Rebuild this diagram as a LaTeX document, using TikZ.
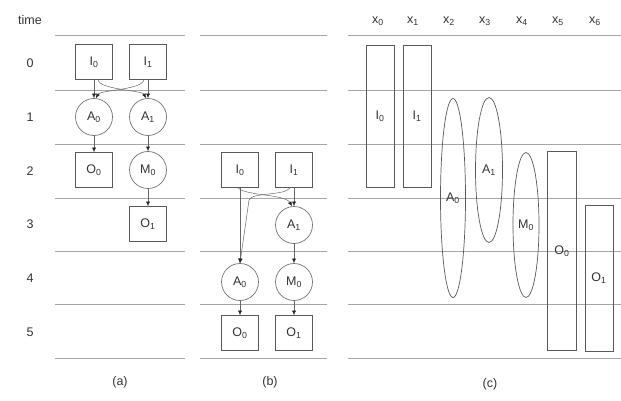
\documentclass[tikz,border=0pt]{standalone}
\usepackage{fontspec}
\setmainfont{Liberation Sans}
\usetikzlibrary{arrows.meta,shapes.geometric}
\begin{document}
\begin{tikzpicture}[x=1pt,y=-1pt,
  every node/.style={font=\fontsize{12.5}{14}\selectfont, text=black!80},
  grid/.style={draw=black!35, line width=0.7pt},
  boxn/.style={draw=black!65, line width=0.7pt, minimum width=37pt, minimum height=35pt, inner sep=0pt},
  circn/.style={draw=black!55, line width=0.7pt, circle, minimum size=37pt, inner sep=0pt},
  tallbox/.style={draw=black!65, line width=0.7pt, inner sep=0pt},
  ell/.style={draw=black!65, line width=0.7pt, ellipse, inner sep=0pt},
  arr/.style={draw=black!60, line width=0.5pt, -{Latex[length=4.5pt,width=4pt,color=black!85]}},
  lbl/.style={font=\fontsize{12.5}{14}\selectfont}
]
\useasboundingbox (0,0) rectangle (621,401);
% horizontal lines
\foreach \y in {35,90,144,198,251,304,358}{
  \draw[grid] (55,\y) -- (185,\y);
  \draw[grid] (200,\y) -- (327,\y);
  \draw[grid] (348,\y) -- (621,\y);
}
% row labels
\node[lbl] (time) at (30,20) {time};
\node[lbl] (r0) at (30,63) {0};
\node[lbl] (r1) at (30,117) {1};
\node[lbl] (r2) at (30,171) {2};
\node[lbl] (r3) at (30,224) {3};
\node[lbl] (r4) at (30,278) {4};
\node[lbl] (r5) at (30,332) {5};
% panel (a)
\node[boxn] (aI0) at (94,62) {I\textsubscript{0}};
\node[boxn] (aI1) at (148,62) {I\textsubscript{1}};
\node[circn] (aA0) at (94,117) {A\textsubscript{0}};
\node[circn] (aA1) at (148,117) {A\textsubscript{1}};
\node[boxn] (aO0) at (94,170) {O\textsubscript{0}};
\node[circn] (aM0) at (148,170) {M\textsubscript{0}};
\node[boxn] (aO1) at (148,224) {O\textsubscript{1}};
\draw[arr] (aI0.south) -- (aA0.north);
\draw[arr] (aI1.south) -- (aA1.north);
\draw[arr] ([xshift=4pt]aI0.south) .. controls +(2,10) and +(-4,-8) .. ([xshift=-2pt]aA1.north);
\draw[arr] ([xshift=-4pt]aI1.south) .. controls +(-2,10) and +(4,-8) .. ([xshift=2pt]aA0.north);
\draw[arr] (aA0.south) -- (aO0.north);
\draw[arr] (aA1.south) -- (aM0.north);
\draw[arr] (aM0.south) -- (aO1.north);
\node[lbl] (capa) at (120,382) {(a)};
% panel (b)
\node[boxn] (bI0) at (240,170) {I\textsubscript{0}};
\node[boxn] (bI1) at (294,170) {I\textsubscript{1}};
\node[circn] (bA1) at (294,225) {A\textsubscript{1}};
\node[circn] (bA0) at (240,282) {A\textsubscript{0}};
\node[circn] (bM0) at (294,282) {M\textsubscript{0}};
\node[boxn] (bO0) at (240,333) {O\textsubscript{0}};
\node[boxn] (bO1) at (294,333) {O\textsubscript{1}};
\draw[arr] (bI0.south) -- (bA0.north);
\draw[arr] (bI1.south) -- (bA1.north);
\draw[arr] ([xshift=-2pt]bI0.south) .. controls (246,196) and (285,194) .. ([xshift=-2pt]bA1.north);
\draw[arr] ([xshift=-4pt]bI1.south) .. controls (285,196) and (252,192) .. (249,200) -- (bA0.north);
\draw[arr] (bA0.south) -- (bO0.north);
\draw[arr] (bA1.south) -- (bM0.north);
\draw[arr] (bM0.south) -- (bO1.north);
\node[lbl] (capb) at (270,382) {(b)};
% panel (c)
\node[lbl] (x0) at (378,21) {x\textsubscript{0}};
\node[lbl] (x1) at (413,21) {x\textsubscript{1}};
\node[lbl] (x2) at (449,21) {x\textsubscript{2}};
\node[lbl] (x3) at (485,21) {x\textsubscript{3}};
\node[lbl] (x4) at (522,21) {x\textsubscript{4}};
\node[lbl] (x5) at (558,21) {x\textsubscript{5}};
\node[lbl] (x6) at (595,21) {x\textsubscript{6}};
\node[tallbox, minimum width=28pt, minimum height=142pt] (cI0) at (380,116) {I\textsubscript{0}};
\node[tallbox, minimum width=28pt, minimum height=142pt] (cI1) at (417,116) {I\textsubscript{1}};
\node[ell, minimum width=25pt, minimum height=199pt] (cA0) at (453,198) {A\textsubscript{0}};
\node[ell, minimum width=27pt, minimum height=145pt] (cA1) at (489,170) {A\textsubscript{1}};
\node[ell, minimum width=26pt, minimum height=145pt] (cM0) at (526,225) {M\textsubscript{0}};
\node[tallbox, minimum width=29pt, minimum height=199pt] (cO0) at (562,251) {O\textsubscript{0}};
\node[tallbox, minimum width=28pt, minimum height=146pt] (cO1) at (599,278) {O\textsubscript{1}};
\node[lbl] (capc) at (490,384) {(c)};
\end{tikzpicture}
\end{document}
